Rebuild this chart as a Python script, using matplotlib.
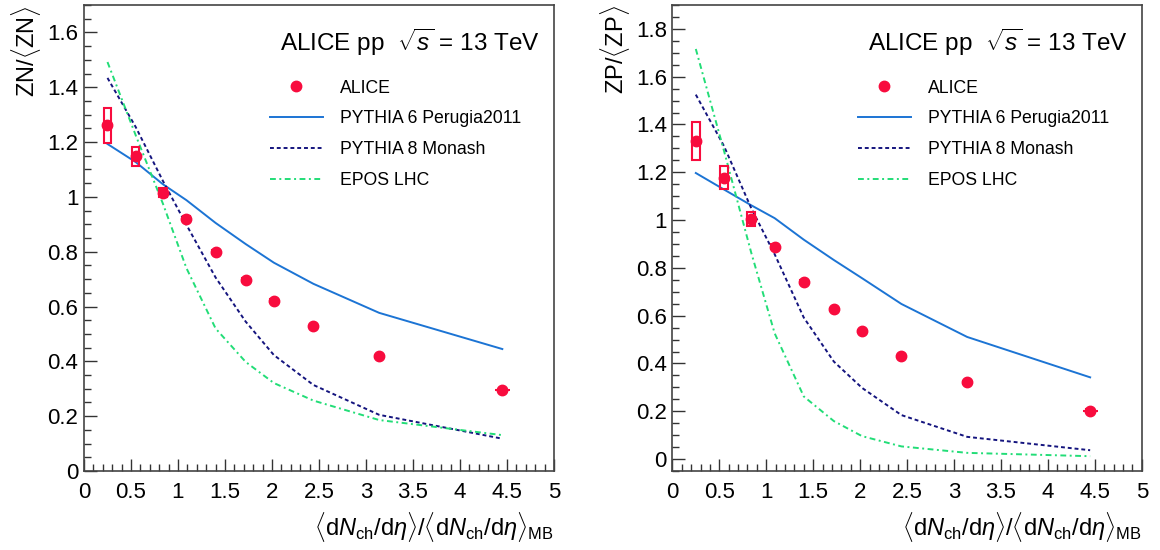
import numpy as np
import matplotlib
matplotlib.use("Agg")
import matplotlib.pyplot as plt
from matplotlib.ticker import MultipleLocator, FuncFormatter
from matplotlib.lines import Line2D

plt.rcParams['font.family'] = ['Liberation Sans', 'DejaVu Sans']
plt.rcParams['mathtext.fontset'] = 'custom'
plt.rcParams['mathtext.rm'] = 'Liberation Sans'
plt.rcParams['mathtext.it'] = 'Liberation Sans:italic'
plt.rcParams['mathtext.bf'] = 'Liberation Sans:bold'

# multiplicity classes
mult = [0.25, 0.55, 0.84, 1.09, 1.40, 1.72, 2.02, 2.44, 3.14, 4.45]
mult_err = [0.01, 0.01, 0.01, 0.01, 0.01, 0.01, 0.02, 0.02, 0.04, 0.08]

# ZN
zn_alice = [1.261, 1.148, 1.016, 0.920, 0.798, 0.697, 0.621, 0.529, 0.418, 0.295]
zn_stat = [0.005, 0.005, 0.005, 0.004, 0.004, 0.004, 0.004, 0.004, 0.004, 0.004]
zn_syst = [0.065, 0.034, 0.016, 0.010, 0.008, 0.007, 0.006, 0.008, 0.006, 0.005]
zn_pythia6 = [1.193, 1.127, 1.046, 0.988, 0.905, 0.828, 0.760, 0.683, 0.577, 0.445]
zn_pythia8 = [1.434, 1.255, 1.058, 0.898, 0.706, 0.545, 0.423, 0.314, 0.205, 0.118]
zn_epos = [1.492, 1.225, 0.975, 0.740, 0.520, 0.398, 0.321, 0.257, 0.186, 0.131]

# ZP
zp_alice = [1.331, 1.177, 1.004, 0.889, 0.742, 0.626, 0.536, 0.433, 0.322, 0.203]
zp_stat = [0.006, 0.006, 0.005, 0.005, 0.005, 0.005, 0.005, 0.005, 0.005, 0.005]
zp_syst = [0.081, 0.048, 0.028, 0.012, 0.008, 0.007, 0.006, 0.006, 0.006, 0.005]
zp_pythia6 = [1.197, 1.128, 1.062, 1.008, 0.918, 0.833, 0.757, 0.649, 0.511, 0.342]
zp_pythia8 = [1.525, 1.310, 1.050, 0.857, 0.592, 0.408, 0.298, 0.184, 0.093, 0.037]
zp_epos = [1.716, 1.290, 0.864, 0.526, 0.262, 0.159, 0.096, 0.053, 0.026, 0.012]

red = '#f80c3e'
blue6 = '#1c74d4'
navy8 = '#14147e'
green = '#22dd77'

xlabel = r'$\langle$d$N_{\rm ch}$/d$\eta\rangle$/$\langle$d$N_{\rm ch}$/d$\eta\rangle_{\rm MB}$'


def panel(ax, alice, stat, syst, p6, p8, epos, ylab, ylim, ymaj):
    x = np.array(mult)
    y = np.array(alice)
    s = np.array(syst)
    ax.bar(x, 2 * s, bottom=y - s, width=0.08, fill=False,
           edgecolor=red, linewidth=1.5, zorder=3)
    l6, = ax.plot(x, p6, color=blue6, lw=1.4)
    l8, = ax.plot(x, p8, color=navy8, lw=1.4, dashes=(2.0, 1.5))
    le, = ax.plot(x, epos, color=green, lw=1.4, dashes=(3.0, 1.8, 1.0, 1.8))
    ax.errorbar(x, y, yerr=stat, xerr=mult_err, fmt='o', color=red,
                ms=7.5, elinewidth=1.5, capsize=0, zorder=4)
    pa = Line2D([], [], ls='none', marker='o', color=red, ms=7.5)

    ax.set_xlim(0, 5)
    ax.set_ylim(*ylim)
    ax.xaxis.set_major_locator(MultipleLocator(0.5))
    ax.xaxis.set_minor_locator(MultipleLocator(0.1))
    ax.yaxis.set_major_locator(MultipleLocator(ymaj))
    ax.yaxis.set_minor_locator(MultipleLocator(0.05))
    ax.tick_params(which='both', direction='in', top=False, right=False,
                   labelsize=16, color='#333333')
    ax.tick_params(which='major', length=9, width=1.0)
    ax.tick_params(which='minor', length=5, width=1.0)
    ax.tick_params(axis='x', pad=8)
    ax.tick_params(axis='y', pad=4)
    for sp in ax.spines.values():
        sp.set_color('#444444')
        sp.set_linewidth(1.2)
    ax.xaxis.set_major_formatter(FuncFormatter(lambda v, p: '%g' % v))
    ax.yaxis.set_major_formatter(FuncFormatter(lambda v, p: '%g' % round(v, 3)))

    ax.set_ylabel(ylab, fontsize=17, loc='top', labelpad=3)
    ax.set_xlabel(xlabel, fontsize=17, loc='right', labelpad=5)

    ax.text(0.97, 0.92, r'ALICE pp  $\sqrt{s}$ = 13 TeV', transform=ax.transAxes,
            fontsize=17.5, ha='right', va='center')
    ax.legend([pa, l6, l8, le],
              ['ALICE', 'PYTHIA 6 Perugia2011', 'PYTHIA 8 Monash', 'EPOS LHC'],
              loc='upper left', bbox_to_anchor=(0.395, 0.84), frameon=False,
              fontsize=12.7, handlelength=3.0, handletextpad=1.0,
              labelspacing=0.78, borderpad=0, borderaxespad=0)


fig = plt.figure(figsize=(11.6, 5.5), dpi=100)
ax1 = fig.add_axes([0.0724, 0.1436, 0.4052, 0.8473])
ax2 = fig.add_axes([0.5796, 0.1436, 0.4047, 0.8473])

panel(ax1, zn_alice, zn_stat, zn_syst, zn_pythia6, zn_pythia8, zn_epos,
      r'ZN/$\langle$ZN$\rangle$', (0, 1.7), 0.2)
panel(ax2, zp_alice, zp_stat, zp_syst, zp_pythia6, zp_pythia8, zp_epos,
      r'ZP/$\langle$ZP$\rangle$', (-0.05, 1.9), 0.2)

fig.savefig('out.png', dpi=100)
